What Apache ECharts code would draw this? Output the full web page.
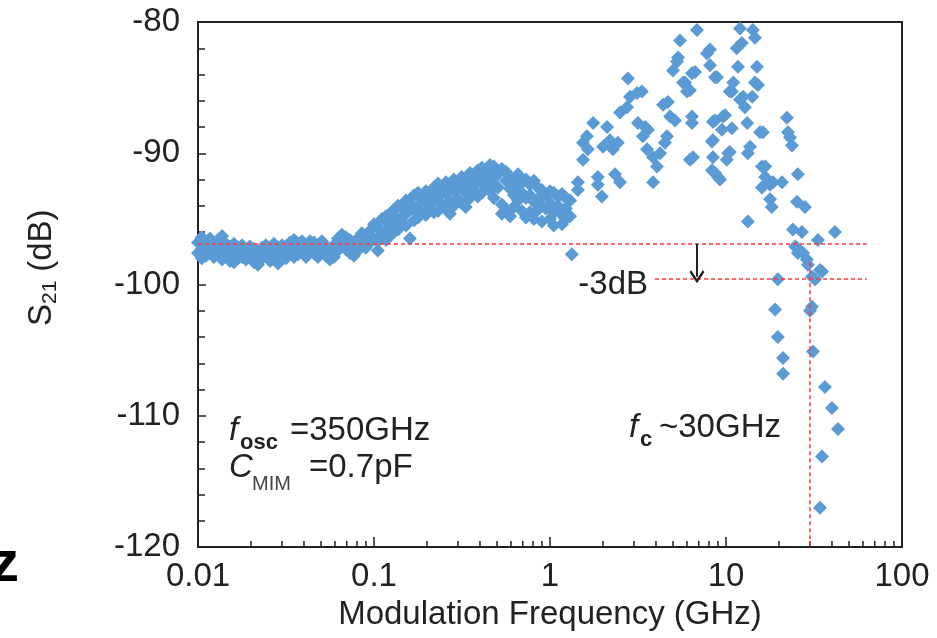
<!DOCTYPE html>
<html>
<head>
<meta charset="utf-8">
<script src="https://cdn.jsdelivr.net/npm/echarts@6/dist/echarts.min.js"></script>
<style>
  html, body { margin: 0; padding: 0; background: #fff; }
  #chart { width: 937px; height: 638px; }
</style>
</head>
<body>
<div id="chart"></div>
<script>
// S21 vs modulation frequency, [GHz, dB]
var lowBand = [
  [0.0100,-96.8],[0.0100,-97.6],[0.0105,-96.4],[0.0105,-97.3],[0.0105,-98.0],
  [0.0111,-96.7],[0.0111,-97.8],[0.0117,-96.5],[0.0117,-97.4],[0.0123,-97.0],[0.0123,-97.9],
  [0.0130,-96.6],[0.0130,-97.5],[0.0137,-96.3],[0.0137,-97.2],[0.0137,-98.1],
  [0.0144,-96.9],[0.0144,-97.8],[0.0152,-97.1],[0.0152,-98.2],
  [0.0160,-96.9],[0.0160,-97.6],[0.0160,-98.3],[0.0168,-97.2],[0.0168,-98.0],
  [0.0178,-97.0],[0.0178,-97.9],[0.0187,-97.4],[0.0187,-98.1],[0.0197,-97.1],[0.0197,-97.8],
  [0.0208,-97.3],[0.0208,-98.3],[0.0219,-97.6],[0.0219,-98.5],[0.0231,-97.2],[0.0231,-98.0],
  [0.0243,-97.0],[0.0243,-97.7],[0.0257,-97.3],[0.0257,-98.2],[0.0270,-96.9],[0.0270,-97.8],
  [0.0285,-97.2],[0.0285,-98.4],[0.0300,-97.0],[0.0300,-97.6],[0.0316,-97.4],[0.0316,-98.0],
  [0.0333,-96.8],[0.0333,-97.5],[0.0351,-96.6],[0.0351,-97.3],[0.0351,-97.9],
  [0.0370,-96.9],[0.0370,-97.7],[0.0390,-96.7],[0.0390,-97.5],[0.0411,-97.0],[0.0411,-97.9],
  [0.0433,-96.7],[0.0433,-97.4],[0.0456,-96.8],[0.0456,-97.6],[0.0480,-97.0],[0.0480,-97.9],
  [0.0506,-96.7],[0.0506,-97.5],[0.0533,-97.1],[0.0533,-97.8],[0.0562,-97.3],[0.0562,-98.1],
  [0.0592,-97.0],[0.0592,-97.9],[0.0624,-96.5],[0.0624,-97.4],[0.0657,-96.2],[0.0657,-97.1],
  [0.0693,-96.4],[0.0693,-97.3],[0.0730,-96.6],[0.0730,-97.6],[0.0769,-96.9],[0.0769,-97.8],
  [0.0810,-96.5],[0.0810,-97.4],[0.0853,-96.1],[0.0853,-97.0],[0.0899,-96.3],[0.0899,-97.2],
  [0.0949,-95.9],[0.0949,-96.8],[0.100,-95.4],[0.100,-96.5],
  [0.105,-95.6],[0.105,-96.7],[0.105,-97.4],[0.111,-95.0],[0.111,-96.1],
  [0.117,-94.8],[0.117,-95.9],[0.117,-96.6]
];

var midBand = [
  [0.123,-94.6],[0.123,-95.4],[0.123,-96.3],[0.130,-94.3],[0.130,-95.2],[0.130,-96.0],
  [0.137,-94.0],[0.137,-95.0],[0.137,-95.8],[0.145,-94.2],[0.145,-95.3],
  [0.152,-93.6],[0.152,-94.6],[0.152,-95.5],[0.160,-93.8],[0.160,-96.5],
  [0.169,-93.2],[0.169,-94.3],[0.169,-95.1],[0.178,-93.0],[0.178,-94.0],[0.178,-94.9],
  [0.187,-93.4],[0.187,-94.6],[0.197,-92.9],[0.197,-93.8],[0.197,-94.7],
  [0.208,-93.1],[0.208,-94.2],[0.219,-92.6],[0.219,-93.6],[0.219,-94.5],
  [0.231,-92.3],[0.231,-93.3],[0.231,-94.4],[0.243,-92.7],[0.243,-93.9],
  [0.256,-92.2],[0.256,-93.1],[0.256,-94.2],[0.270,-92.5],[0.270,-93.7],[0.270,-94.6],
  [0.284,-92.0],[0.284,-92.9],[0.284,-94.0],[0.299,-92.3],[0.299,-93.5],
  [0.315,-91.8],[0.315,-92.7],[0.315,-93.8],[0.332,-91.9],[0.332,-93.0],[0.332,-94.1],
  [0.351,-91.5],[0.351,-92.4],[0.351,-93.4],[0.369,-91.7],[0.369,-92.8],
  [0.389,-91.3],[0.389,-92.2],[0.389,-93.3],[0.410,-91.1],[0.410,-92.0],[0.410,-93.0],
  [0.432,-91.4],[0.432,-92.5],[0.456,-90.9],[0.456,-91.8],[0.456,-92.9],
  [0.480,-91.0],[0.480,-92.3],[0.480,-93.4],[0.506,-91.6],[0.506,-92.6],
  [0.533,-91.2],[0.533,-93.9],[0.533,-94.6],[0.562,-91.4],[0.562,-92.1],[0.562,-94.3],
  [0.593,-91.8],[0.593,-92.7],[0.593,-94.8],[0.624,-92.0],[0.624,-93.2],[0.624,-94.1],
  [0.658,-91.6],[0.658,-92.5],[0.658,-93.6],[0.693,-92.2],[0.693,-93.0],[0.693,-94.4],
  [0.730,-92.0],[0.730,-93.4],[0.730,-94.9],[0.769,-92.4],[0.769,-93.2],[0.769,-94.5],
  [0.810,-92.1],[0.810,-93.7],[0.810,-95.0],[0.853,-92.6],[0.853,-93.5],[0.853,-94.3],
  [0.899,-92.8],[0.899,-94.0],[0.899,-95.2],[0.947,-93.2],[0.947,-94.2],
  [1.00,-92.9],[1.00,-93.8],[1.00,-95.0],[1.05,-93.0],[1.05,-94.5],[1.05,-95.5],
  [1.11,-93.3],[1.11,-94.0],[1.17,-93.1],[1.17,-94.7],[1.17,-95.4],
  [1.23,-93.4],[1.23,-94.2],[1.23,-95.0],[1.30,-93.6],[1.30,-94.8],[1.33,-97.7]
];

var peakBand = [
  [1.44,-92.2],[1.44,-92.8],[1.54,-90.5],[1.54,-89.2],[1.62,-88.7],[1.64,-89.7],
  [1.76,-87.7],[1.87,-91.8],[1.87,-92.4],[1.97,-93.3],[2.00,-89.5],[2.11,-88.0],
  [2.19,-89.0],[2.28,-89.7],[2.34,-91.6],[2.43,-89.2],[2.50,-92.2],[2.50,-86.9],
  [2.74,-86.5],[2.77,-84.3],[2.85,-85.7],[3.12,-85.4],[3.33,-85.3],[3.16,-87.7],
  [3.47,-88.0],[3.37,-88.7],[3.60,-88.2],[3.56,-89.7],[3.85,-90.3],[4.05,-91.0],
  [3.85,-92.2],[4.22,-90.0],[4.39,-86.3],[4.68,-86.1],[4.81,-87.2],[5.13,-87.5],
  [4.62,-88.7],[4.50,-89.2],[5.00,-83.7],[5.27,-83.0],[5.85,-84.6],[6.24,-85.2],
  [6.41,-83.9],[6.24,-90.5],[6.41,-87.7],[6.84,-80.6],[5.48,-81.4],[5.34,-82.7],
  [7.80,-82.4],[8.11,-82.1],[6.67,-83.8],[8.66,-84.2],[5.70,-84.6],[6.00,-85.3],
  [6.41,-87.2],[8.43,-87.6],[9.61,-87.2],[9.48,-88.2],[10.8,-88.1],[8.32,-89.1],
  [8.43,-90.3],[10.3,-90.0],[8.32,-91.3],[9.01,-91.8],[10.1,-90.5],[12.0,-80.5],
  [12.3,-81.6],[11.5,-82.0],[11.7,-83.4],[11.0,-84.6],[10.8,-85.3],[12.0,-85.9],
  [12.8,-86.5],[13.2,-87.7],[14.2,-80.6],[14.6,-81.2],[15.0,-83.4],[14.6,-84.6],
  [15.2,-84.8],[14.1,-85.7],[15.6,-88.4],[13.7,-89.5],[13.3,-90.0],[16.0,-91.0],
  [16.7,-91.8],[16.0,-92.6],[18.5,-92.2],[20.8,-92.2],[17.8,-93.5],[18.2,-94.1],
  [13.3,-95.2],[22.2,-87.3],[22.5,-88.4],[23.1,-88.8],[23.7,-89.4],[25.6,-91.6],
  [25.3,-93.7],[28.1,-94.1],[24.0,-95.8],[27.0,-96.0],[41.6,-96.0],[33.3,-96.6],
  [25.3,-97.2],[27.4,-97.6],[28.8,-98.1],[34.2,-98.9],[30.8,-99.4],[19.7,-99.6],
  [8.11,-83.3],[8.89,-84.2],[12.5,-85.7],[9.87,-87.1],[10.5,-85.3],[8.66,-87.5],
  [8.43,-89.0],[10.5,-89.9],[8.66,-91.5],[9.24,-92.0],[17.8,-92.4],[6.49,-90.3],
  [16.2,-88.4],[16.7,-91.0],[24.7,-97.1],[25.6,-97.6],[29.2,-98.5],[32.1,-99.6],[35.1,-99.0]
];

var rollOff = [
  [19.0,-101.9],[30.8,-101.7],[30.0,-102.0],[19.7,-104.0],[31.2,-105.1],[21.1,-105.6],
  [21.1,-106.8],[36.5,-107.8],[40.0,-109.4],[43.3,-111.0],[35.1,-113.1],[34.2,-117.0]
];

// reference lines: flat level, -3 dB level, cut-off frequency
var flatLevel = -96.9;
var minus3dB = -99.6;
var cutoffGHz = 30;
var arrowGHz = 6.84;

var xMinorTicks = [];
[0.01, 0.1, 1, 10].forEach(function (d) {
  [2, 3, 4, 5, 6, 7, 8, 9].forEach(function (k) { xMinorTicks.push([+(d * k).toPrecision(3), -120]); });
});

var FONT = 'Liberation Sans, Arial, sans-serif';
var INK = '#222';

var chart = echarts.init(document.getElementById('chart'));

var allPoints = lowBand.concat(midBand, peakBand, rollOff);

var option = {
  animation: false,
  grid: {
    left: 198, right: 35, top: 22, bottom: 91,
    show: true, borderColor: INK, borderWidth: 2, backgroundColor: 'transparent'
  },
  xAxis: {
    type: 'log', logBase: 10, min: 0.01, max: 100,
    axisLine: { lineStyle: { color: INK, width: 2 } },
    axisTick: { inside: true, length: 10, lineStyle: { color: INK, width: 1.5 } },
    splitLine: { show: false },
    axisLabel: {
      fontSize: 33, color: INK, fontFamily: FONT, margin: 13,
      formatter: function (v) { return String(+(+v).toPrecision(3)); }
    },
    name: 'Modulation Frequency (GHz)', nameLocation: 'middle', nameGap: 51,
    nameTextStyle: { fontSize: 33, color: INK, fontFamily: FONT }
  },
  yAxis: {
    type: 'value', min: -120, max: -80, interval: 10,
    axisLine: { show: true, lineStyle: { color: INK, width: 2 } },
    axisTick: { show: true, inside: true, length: 8, lineStyle: { color: INK, width: 1.5 } },
    minorTick: { show: true, splitNumber: 5, length: 7, lineStyle: { color: INK, width: 1.5 } },
    splitLine: { show: false },
    axisLabel: { fontSize: 33, color: INK, fontFamily: FONT, margin: 18 }
  },
  series: [
    {
      type: 'scatter',
      data: allPoints,
      symbol: 'diamond',
      symbolSize: 14,
      itemStyle: { color: '#5b9bd5', opacity: 1 },
      silent: true,
      markLine: {
        silent: true,
        symbol: ['none', 'none'],
        label: { show: false },
        lineStyle: { color: '#ff3b3b', width: 1.5, type: [4, 3] },
        data: [
          [{ coord: [0.01, flatLevel] }, { coord: [63, flatLevel] }],
          [{ coord: [3.95, minus3dB] }, { coord: [63, minus3dB] }],
          [{ coord: [cutoffGHz, -98.3] }, { coord: [cutoffGHz, -120] }]
        ]
      }
    },
    {
      type: 'scatter',
      data: [],
      silent: true,
      markLine: {
        silent: true,
        symbol: ['none', 'path://M5,0 L10,8 L8.8,9.4 L5,3 L1.2,9.4 L0,8 Z'],
        symbolSize: [15, 13],
        label: { show: false },
        lineStyle: { color: INK, width: 2, type: 'solid' },
        data: [
          [{ coord: [arrowGHz, flatLevel] }, { coord: [arrowGHz, minus3dB + 0.2] }]
        ]
      }
    },
    {
      type: 'custom',
      silent: true,
      clip: false,
      data: xMinorTicks,
      encode: { x: 0, y: 1 },
      renderItem: function (params, api) {
        var p = api.coord([api.value(0), api.value(1)]);
        return {
          type: 'line',
          shape: { x1: p[0], y1: p[1], x2: p[0], y2: p[1] - 6 },
          style: { stroke: INK, lineWidth: 1.5 }
        };
      }
    }
  ],
  graphic: [
    // y axis title: S21 (dB)
    {
      type: 'group', x: 42, y: 268, rotation: Math.PI / 2,
      children: [
        { type: 'text', x: -58, y: 0, style: { text: 'S', font: '33px ' + FONT, fill: INK, verticalAlign: 'middle' } },
        { type: 'text', x: -36, y: 8, style: { text: '21', font: '21px ' + FONT, fill: INK, verticalAlign: 'middle' } },
        { type: 'text', x: -13, y: 0, style: { text: ' (dB)', font: '33px ' + FONT, fill: INK, verticalAlign: 'middle' } }
      ]
    },
    { type: 'text', x: 648, y: 285, style: { text: '-3dB', font: '33px ' + FONT, fill: INK, align: 'right', verticalAlign: 'middle' } },
    // f_osc = 350GHz
    { type: 'text', x: 229, y: 431, style: { text: 'f', font: 'italic 33px ' + FONT, fill: INK, verticalAlign: 'middle' } },
    { type: 'text', x: 240, y: 443, style: { text: 'osc', font: 'bold 22px ' + FONT, fill: INK, verticalAlign: 'middle' } },
    { type: 'text', x: 290, y: 431, style: { text: '=350GHz', font: '33px ' + FONT, fill: INK, verticalAlign: 'middle' } },
    // C_MIM = 0.7pF
    { type: 'text', x: 229, y: 468, style: { text: 'C', font: 'italic 33px ' + FONT, fill: INK, verticalAlign: 'middle' } },
    { type: 'text', x: 252, y: 484, style: { text: 'MIM', font: '20px ' + FONT, fill: '#444', verticalAlign: 'middle' } },
    { type: 'text', x: 309, y: 468, style: { text: '=0.7pF', font: '33px ' + FONT, fill: INK, verticalAlign: 'middle' } },
    // f_c ~30GHz
    { type: 'text', x: 629, y: 428, style: { text: 'f', font: 'italic 33px ' + FONT, fill: INK, verticalAlign: 'middle' } },
    { type: 'text', x: 640, y: 440, style: { text: 'c', font: 'bold 22px ' + FONT, fill: INK, verticalAlign: 'middle' } },
    { type: 'text', x: 659, y: 428, style: { text: '~30GHz', font: '33px ' + FONT, fill: INK, verticalAlign: 'middle' } },
    // cropped panel letter at the left edge
    { type: 'text', x: -10, y: 565, style: { text: 'z', font: 'bold 58px ' + FONT, fill: '#000', verticalAlign: 'middle' } }
  ]
};

chart.setOption(option);
</script>
</body>
</html>
